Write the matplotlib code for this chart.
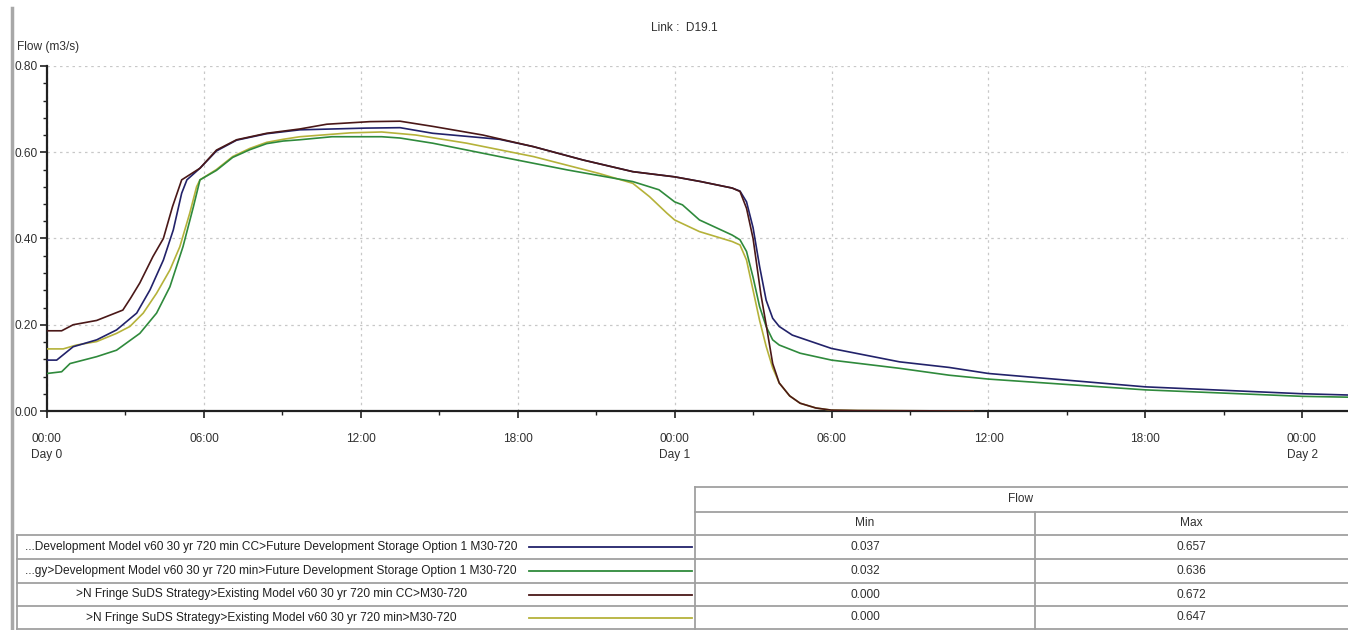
import matplotlib
matplotlib.use("Agg")
import matplotlib.pyplot as plt
from matplotlib.lines import Line2D
from matplotlib.ticker import FixedLocator, MultipleLocator, FormatStrFormatter

W, H = 1348, 630
plt.rcParams['font.family'] = ['Liberation Sans', 'DejaVu Sans']
FS = 8.6

# ---------------- data (hours since Day 0 00:00, flow m3/s) ----------------
title = "Link :  D19.1"
ylabel = "Flow (m3/s)"

series_labels = [
    "...Development Model v60 30 yr 720 min CC>Future Development Storage Option 1 M30-720",
    "...gy>Development Model v60 30 yr 720 min>Future Development Storage Option 1 M30-720",
    ">N Fringe SuDS Strategy>Existing Model v60 30 yr 720 min CC>M30-720",
    ">N Fringe SuDS Strategy>Existing Model v60 30 yr 720 min>M30-720",
]
series_colors = ["#22226a", "#2f8a3c", "#4a1818", "#b5b23a"]
flow_min = ["0.037", "0.032", "0.000", "0.000"]
flow_max = ["0.657", "0.636", "0.672", "0.647"]

t_dev_cc = [0, 0.37, 1.0, 1.9, 2.66, 3.43, 3.94, 4.45, 4.83, 5.15, 5.35, 5.85, 6.48, 7.25, 8.4,
            9.67, 12.2, 13.5, 14.75, 17.3, 18.6, 20.5, 22.4, 24.0, 25.0, 26.2, 26.5, 26.75, 27.0,
            27.25, 27.5, 27.75, 28.0, 28.5, 30.0, 32.6, 34.5, 36.0, 42.0, 48.0, 49.8]
q_dev_cc = [0.118, 0.118, 0.149, 0.165, 0.188, 0.227, 0.281, 0.350, 0.420, 0.505, 0.536, 0.563,
            0.603, 0.628, 0.643, 0.652, 0.656, 0.657, 0.644, 0.630, 0.613, 0.582, 0.555, 0.543,
            0.532, 0.517, 0.510, 0.485, 0.425, 0.335, 0.257, 0.215, 0.196, 0.176, 0.145, 0.114,
            0.101, 0.087, 0.056, 0.040, 0.037]

t_dev = [0, 0.56, 0.88, 1.9, 2.66, 3.55, 4.19, 4.7, 5.2, 5.6, 5.85, 6.48, 7.1, 7.76, 8.4, 9.03,
         9.67, 10.9, 12.8, 13.5, 14.75, 17.3, 19.9, 22.4, 23.4, 24.0, 24.3, 24.95, 26.2, 26.5,
         26.75, 27.0, 27.25, 27.5, 27.75, 28.0, 28.8, 30.0, 32.6, 34.5, 36.0, 42.0, 48.0, 49.8]
q_dev = [0.087, 0.091, 0.110, 0.126, 0.141, 0.180, 0.227, 0.288, 0.381, 0.474, 0.536, 0.558,
         0.588, 0.606, 0.620, 0.626, 0.629, 0.636, 0.636, 0.633, 0.621, 0.590, 0.559, 0.532,
         0.513, 0.485, 0.478, 0.443, 0.408, 0.397, 0.370, 0.310, 0.242, 0.196, 0.165, 0.153,
         0.134, 0.118, 0.099, 0.083, 0.074, 0.049, 0.034, 0.032]

t_ex_cc = [0, 0.56, 1.0, 1.9, 2.9, 3.2, 3.55, 4.05, 4.45, 4.8, 5.15, 5.85, 6.48, 7.25, 8.4, 9.67,
           10.7, 12.35, 13.5, 14.75, 16.66, 18.6, 20.5, 22.4, 24.0, 25.0, 26.2, 26.5, 26.75, 27.0,
           27.3, 27.5, 27.75, 28.0, 28.4, 28.8, 29.4, 30.0, 31.0, 35.4]
q_ex_cc = [0.186, 0.186, 0.200, 0.210, 0.234, 0.262, 0.297, 0.358, 0.400, 0.474, 0.536, 0.563,
           0.605, 0.629, 0.644, 0.654, 0.665, 0.671, 0.672, 0.660, 0.640, 0.613, 0.582, 0.555,
           0.543, 0.532, 0.517, 0.509, 0.470, 0.400, 0.270, 0.200, 0.110, 0.065, 0.035, 0.018,
           0.007, 0.002, 0.001, 0.000]

t_ex = [0, 0.62, 1.13, 1.9, 2.66, 3.17, 3.68, 4.19, 4.7, 5.08, 5.46, 5.72, 5.85, 6.48, 7.1, 7.76,
        8.4, 9.03, 9.67, 11.6, 12.8, 14.1, 16.05, 18.6, 21.1, 22.4, 23.04, 23.7, 24.0, 24.95, 26.2,
        26.5, 26.75, 27.0, 27.25, 27.5, 27.75, 28.0, 28.4, 28.8, 29.4, 30.0, 31.0, 35.4]
q_ex = [0.144, 0.144, 0.153, 0.161, 0.180, 0.196, 0.227, 0.273, 0.327, 0.381, 0.459, 0.520, 0.536,
        0.560, 0.590, 0.609, 0.623, 0.630, 0.636, 0.645, 0.647, 0.640, 0.621, 0.590, 0.551, 0.528,
        0.497, 0.459, 0.443, 0.416, 0.393, 0.385, 0.350, 0.280, 0.210, 0.150, 0.100, 0.065, 0.035,
        0.018, 0.007, 0.002, 0.001, 0.000]

tick_hours = [0, 6, 12, 18, 24, 30, 36, 42, 48]
tick_labels = ["00:00\nDay 0", "06:00", "12:00", "18:00", "00:00\nDay 1",
               "06:00", "12:00", "18:00", "00:00\nDay 2"]

# ---------------- figure ----------------
fig = plt.figure(figsize=(W / 100, H / 100), dpi=100)
fig.patch.set_facecolor("white")

def fx(px):
    return px / W

def fy(py):
    return 1 - py / H

ax = fig.add_axes([fx(47), fy(411), fx(1348 - 47), (411 - 66) / H])
ax.set_xlim(0, 49.75)
ax.set_ylim(0, 0.8)

series_t = [t_dev_cc, t_dev, t_ex_cc, t_ex]
series_q = [q_dev_cc, q_dev, q_ex_cc, q_ex]
order = [3, 1, 0, 2]
for i in order:
    ax.plot(series_t[i], series_q[i], color=series_colors[i], lw=1.2, zorder=3)

for s in ["top", "right"]:
    ax.spines[s].set_visible(False)
for s in ["left", "bottom"]:
    ax.spines[s].set_linewidth(1.6)
    ax.spines[s].set_color("#202020")

ax.xaxis.set_major_locator(FixedLocator(tick_hours))
ax.set_xticklabels(tick_labels, fontsize=FS, color="#303030", linespacing=1.4)
ax.xaxis.set_minor_locator(MultipleLocator(3))
ax.yaxis.set_major_locator(MultipleLocator(0.2))
ax.yaxis.set_minor_locator(MultipleLocator(0.04))
ax.yaxis.set_major_formatter(FormatStrFormatter("%.2f"))
for lab in ax.get_yticklabels():
    lab.set_fontsize(FS)
    lab.set_color("#303030")
ax.tick_params(axis="both", which="major", length=5, width=1.2, color="#202020")
ax.tick_params(axis="both", which="minor", length=3, width=1.0, color="#202020")
ax.tick_params(axis="x", pad=11)
ax.tick_params(axis="y", pad=2)
for lab in ax.get_xticklabels():
    lab.set_horizontalalignment("center")
    lab.set_multialignment("left")

ax.grid(True, which="major", color="#c8c8c8", linestyle=(0, (2, 3)), lw=0.9, zorder=0)

fig.text(fx(684), fy(28), title, ha="center", va="center", fontsize=FS, color="#303030")
fig.text(fx(17), fy(47), ylabel, ha="left", va="center", fontsize=FS, color="#303030")

# window border on the left
fig.add_artist(Line2D([fx(12), fx(12)], [fy(8), fy(630)], color="#a8a8a8", lw=2.5))

# ---------------- table ----------------
gc = "#a0a0a0"
def hline(x0, x1, y):
    fig.add_artist(Line2D([fx(x0), fx(x1)], [fy(y), fy(y)], color=gc, lw=1.3))

def vline(x, y0, y1):
    fig.add_artist(Line2D([fx(x), fx(x)], [fy(y0), fy(y1)], color=gc, lw=1.3))

row_y = [535, 559, 583, 606, 629]
hline(695, 1348, 487)
hline(695, 1348, 512)
for y in row_y:
    hline(17, 1348, y)
vline(17, 535, 629)
vline(695, 487, 629)
vline(1035, 512, 629)

fig.text(fx(1021), fy(499), "Flow", ha="center", va="center", fontsize=FS, color="#303030")
fig.text(fx(865), fy(523), "Min", ha="center", va="center", fontsize=FS, color="#303030")
fig.text(fx(1191), fy(523), "Max", ha="center", va="center", fontsize=FS, color="#303030")

for i in range(4):
    yc = (row_y[i] + row_y[i + 1]) / 2
    fig.text(fx(271), fy(yc), series_labels[i], ha="center", va="center",
             fontsize=FS, color="#202020")
    fig.add_artist(Line2D([fx(529), fx(692)], [fy(yc), fy(yc)],
                          color=series_colors[i], lw=1.3))
    fig.text(fx(865), fy(yc), flow_min[i], ha="center", va="center", fontsize=FS, color="#303030")
    fig.text(fx(1191), fy(yc), flow_max[i], ha="center", va="center", fontsize=FS, color="#303030")

fig.savefig("out.png", dpi=100, facecolor="white")
